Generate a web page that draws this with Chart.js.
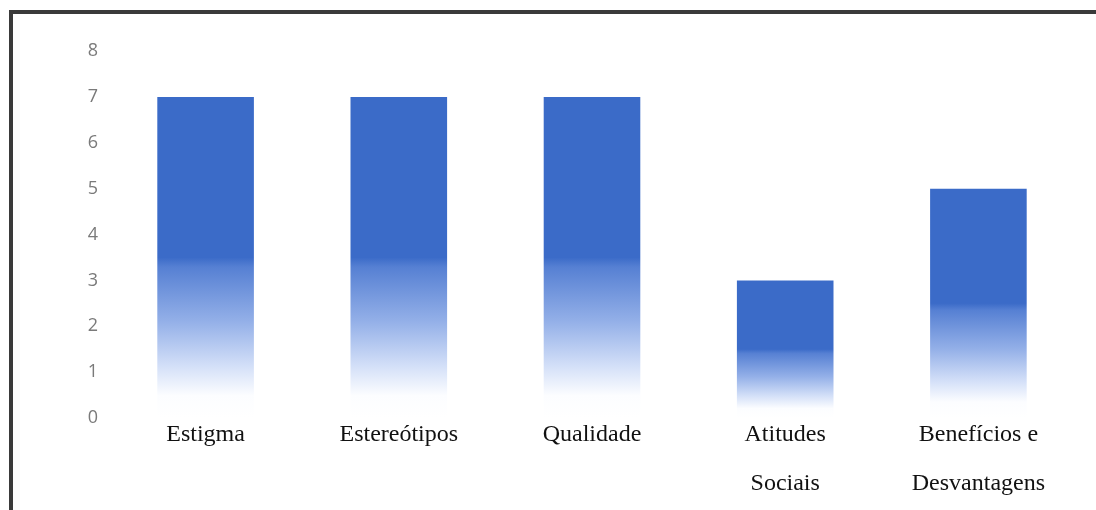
<!DOCTYPE html>
<html>
<head>
<meta charset="utf-8">
<style>
  html, body { margin: 0; padding: 0; background: #fff; }
  #wrap { position: relative; width: 1096px; height: 510px; overflow: hidden; }
  #frame {
    position: absolute; left: 9px; top: 10px; width: 1200px; height: 600px;
    border-top: 4px solid #3a3a3a; border-left: 4px solid #3a3a3a;
    box-sizing: border-box; pointer-events: none;
  }
  canvas { position: absolute; left: 0; top: 0; }
</style>
<script src="https://cdn.jsdelivr.net/npm/chart.js@4/dist/chart.umd.min.js"></script>
</head>
<body>
<div id="wrap">
  <canvas id="chart" width="1096" height="510"></canvas>
  <div id="frame"></div>
</div>
<script>
// Categorias e contagens
const categories = [
  'Estigma',
  'Estereótipos',
  'Qualidade',
  ['Atitudes', 'Sociais'],
  ['Benefícios e', 'Desvantagens']
];
const counts = [7, 7, 7, 3, 5];
const yTicks = [0, 1, 2, 3, 4, 5, 6, 7, 8];

const BLUE = 'rgb(59,107,200)';

// Each bar fades from solid blue (upper half) to white near its base
function barGradient(context) {
  const chart = context.chart;
  const { chartArea, scales } = chart;
  if (!chartArea || !scales.y) return BLUE;
  const value = context.raw;
  const top = scales.y.getPixelForValue(value);
  const bottom = scales.y.getPixelForValue(0);
  const g = chart.ctx.createLinearGradient(0, top, 0, bottom);
  g.addColorStop(0, BLUE);
  g.addColorStop(0.5, BLUE);
  g.addColorStop(0.53, 'rgb(86,128,211)');
  g.addColorStop(0.7, 'rgb(148,176,232)');
  g.addColorStop(0.84, 'rgb(212,224,248)');
  g.addColorStop(0.93, 'rgb(252,253,255)');
  g.addColorStop(1, 'rgb(255,255,255)');
  return g;
}

new Chart(document.getElementById('chart'), {
  type: 'bar',
  data: {
    labels: categories,
    datasets: [{
      data: counts,
      backgroundColor: barGradient,
      borderWidth: 0,
      categoryPercentage: 1.0,
      barPercentage: 0.5
    }]
  },
  options: {
    responsive: false,
    animation: false,
    devicePixelRatio: 1,
    layout: { padding: { top: 51, right: 21, bottom: 0, left: 0 } },
    plugins: { legend: { display: false }, tooltip: { enabled: false } },
    scales: {
      x: {
        grid: { display: false, drawTicks: false },
        border: { display: false },
        afterFit: (scale) => { scale.height = 92; },
        ticks: {
          autoSkip: false,
          maxRotation: 0,
          minRotation: 0,
          padding: -8,
          color: '#111',
          font: { family: '"Liberation Serif", "Times New Roman", serif', size: 24, lineHeight: 2.04 }
        }
      },
      y: {
        min: 0,
        max: 8,
        grid: { display: false, drawTicks: false },
        border: { display: false },
        afterFit: (scale) => { scale.width = 109; },
        afterBuildTicks: (scale) => { scale.ticks = yTicks.map(v => ({ value: v })); },
        ticks: {
          stepSize: 1,
          padding: 11,
          color: '#7a7a7a',
          font: { family: '"Open Sans", "Noto Sans", sans-serif', size: 18 }
        }
      }
    }
  }
});
</script>
</body>
</html>
